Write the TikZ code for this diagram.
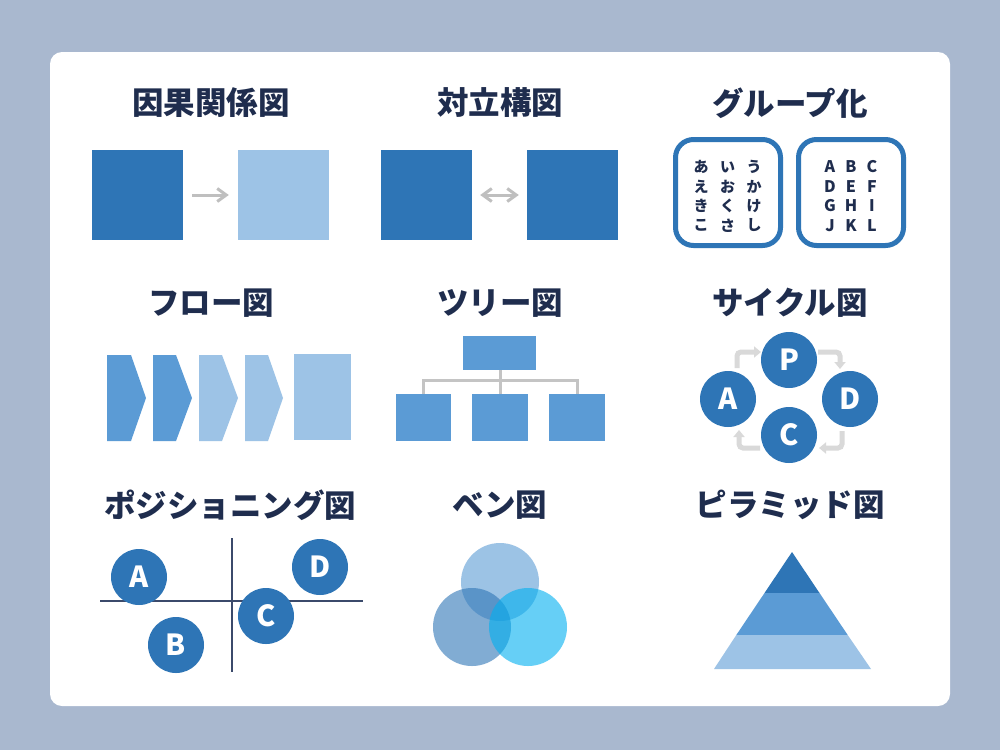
\documentclass[tikz,border=0pt]{standalone}
\usepackage{fontspec}
\newfontfamily\jp{Noto Sans CJK JP}
\usetikzlibrary{arrows.meta}
\definecolor{bg}{HTML}{A9B8CF}
\definecolor{navy}{HTML}{1F2D4E}
\definecolor{dblue}{HTML}{2E75B6}
\definecolor{mblue}{HTML}{5B9BD5}
\definecolor{lblue}{HTML}{9DC3E6}
\definecolor{cyanb}{HTML}{00B0F0}
\definecolor{arrowgray}{HTML}{BFBFBF}
\definecolor{cyclegray}{HTML}{D9D9D9}
\definecolor{treegray}{HTML}{C4C4C4}
\definecolor{axis}{HTML}{3B4A6B}
\begin{document}
\begin{tikzpicture}[x=1pt,y=-1pt,
  title/.style={font=\jp\bfseries\fontsize{31.5}{34}\selectfont, text=navy, inner sep=0pt},
  sq/.style={inner sep=0pt, minimum width=91pt, minimum height=90pt},
  garrow/.style={draw=arrowgray, line width=3pt, -{Straight Barb[length=9pt,width=13pt,line width=3pt]}},
  gdarrow/.style={draw=arrowgray, line width=3pt, {Straight Barb[length=9pt,width=13pt,line width=3pt]}-{Straight Barb[length=9pt,width=13pt,line width=3pt]}},
  gbox/.style={draw=dblue, line width=5pt, rounded corners=18pt, minimum width=105pt, minimum height=106pt, inner sep=0pt},
  gch/.style={font=\jp\bfseries\fontsize{15}{16}\selectfont, text=navy, inner sep=0pt},
  treebox/.style={fill=mblue, inner sep=0pt, minimum height=47pt},
  tline/.style={draw=treegray, line width=3pt},
  circ/.style={circle, fill=dblue, inner sep=0pt, minimum size=56pt, text=white, font=\jp\bfseries\fontsize{29}{30}\selectfont},
  carrow/.style={draw=cyclegray, line width=5pt, rounded corners=4pt, -{Triangle[length=7pt,width=11pt]}},
  axisline/.style={draw=axis, line width=2pt}
]
\useasboundingbox (0,0) rectangle (1000,750);
\fill[bg] (0,0) rectangle (1000,750);
\fill[white, rounded corners=12pt] (50,52) rectangle (950,706);

% titles
\node[title] (t1) at (211,103) {因果関係図};
\node[title] (t2) at (500,103) {対立構図};
\node[title] (t3) at (790,103) {グループ化};
\node[title] (t4) at (211,303) {フロー図};
\node[title] (t5) at (500,303) {ツリー図};
\node[title] (t6) at (790,303) {サイクル図};
\node[title] (t7) at (230,505) {ポジショニング図};
\node[title] (t8) at (500,505) {ベン図};
\node[title] (t9) at (790,505) {ピラミッド図};

% causal
\node[sq, fill=dblue] (c1) at (137.5,195) {};
\node[sq, fill=lblue] (c2) at (283.5,195) {};
\draw[garrow] ([xshift=9pt]c1.east) -- ([xshift=-9pt]c2.west);

% conflict
\node[sq, fill=dblue] (o1) at (426.5,195) {};
\node[sq, fill=dblue] (o2) at (572.5,195) {};
\draw[gdarrow] ([xshift=8pt]o1.east) -- ([xshift=-8pt]o2.west);

% group
\node[gbox] (g1) at (728,192.5) {};
\node[gbox] (g2) at (851,192.5) {};
\foreach \ch [count=\i from 0] in {あ,い,う,え,お,か,き,く,け,こ,さ,し}{
  \pgfmathtruncatemacro{\cc}{mod(\i,3)}
  \pgfmathtruncatemacro{\rr}{int(\i/3)}
  \node[gch] at (701+26.5*\cc, 167+19.5*\rr) {\ch};
}
\foreach \ch [count=\i from 0] in {A,B,C,D,E,F,G,H,I,J,K,L}{
  \pgfmathtruncatemacro{\cc}{mod(\i,3)}
  \pgfmathtruncatemacro{\rr}{int(\i/3)}
  \node[gch, font=\jp\bfseries\fontsize{16}{17}\selectfont] at (830+21*\cc, 167+19.5*\rr) {\ch};
}

% flow
\fill[mblue] (107,355) -- (131,355) -- (146,398) -- (131,441) -- (107,441) -- cycle;
\fill[mblue] (153,355) -- (176,355) -- (192,398) -- (176,441) -- (153,441) -- cycle;
\fill[lblue] (199,355) -- (222,355) -- (238,398) -- (222,441) -- (199,441) -- cycle;
\fill[lblue] (245,355) -- (268,355) -- (283,398) -- (268,441) -- (245,441) -- cycle;
\fill[lblue] (294,354) rectangle (351,440);

% tree
\coordinate (tm) at (500,380);
\draw[tline] (423.5,394) |- (tm) -| (577,394);
\draw[tline] (500,370) -- (500,394);
\node[treebox, minimum width=73pt, minimum height=34pt] (tt) at (499.5,353) {};
\node[treebox, minimum width=55pt] (k1) at (423.5,417.5) {};
\node[treebox, minimum width=56pt] (k2) at (500,417.5) {};
\node[treebox, minimum width=56pt] (k3) at (577,417.5) {};

% cycle
\coordinate (ap1) at (737,368); \coordinate (ap2) at (737,352); \coordinate (ap3) at (761,352);
\coordinate (pd1) at (818,352); \coordinate (pd2) at (840,352); \coordinate (pd3) at (840,369);
\coordinate (dc1) at (842,431); \coordinate (dc2) at (842,448); \coordinate (dc3) at (819,448);
\coordinate (ca1) at (760,448); \coordinate (ca2) at (739,448); \coordinate (ca3) at (739,430);
\draw[carrow] (ap1) -- (ap2) -- (ap3);
\draw[carrow] (pd1) -- (pd2) -- (pd3);
\draw[carrow] (dc1) -- (dc2) -- (dc3);
\draw[carrow] (ca1) -- (ca2) -- (ca3);
\node[circ] (P) at (789,360) {P};
\node[circ] (A) at (728,399) {A};
\node[circ] (D) at (850,399) {D};
\node[circ] (C) at (789,435) {C};

% positioning
\coordinate (vy1) at (232,538); \coordinate (vy2) at (232,672);
\coordinate (hx1) at (100,601); \coordinate (hx2) at (363,601);
\draw[axisline] (vy1) -- (vy2);
\draw[axisline] (hx1) -- (hx2);
\node[circ] (pA) at (139,577) {A};
\node[circ] (pB) at (176,645) {B};
\node[circ] (pC) at (266,616) {C};
\node[circ] (pD) at (320,567) {D};

% venn
\fill[mblue, opacity=.6] (500,582) circle (39);
\fill[dblue, opacity=.6] (472,627) circle (39);
\fill[cyanb, opacity=.6] (528,627) circle (39);

% pyramid
\fill[dblue] (792,552) -- (819.5,593) -- (764.5,593) -- cycle;
\fill[mblue] (764.5,593) -- (819.5,593) -- (847.7,635) -- (736.3,635) -- cycle;
\fill[lblue] (736.3,635) -- (847.7,635) -- (871,669) -- (714,669) -- cycle;
\end{tikzpicture}
\end{document}
